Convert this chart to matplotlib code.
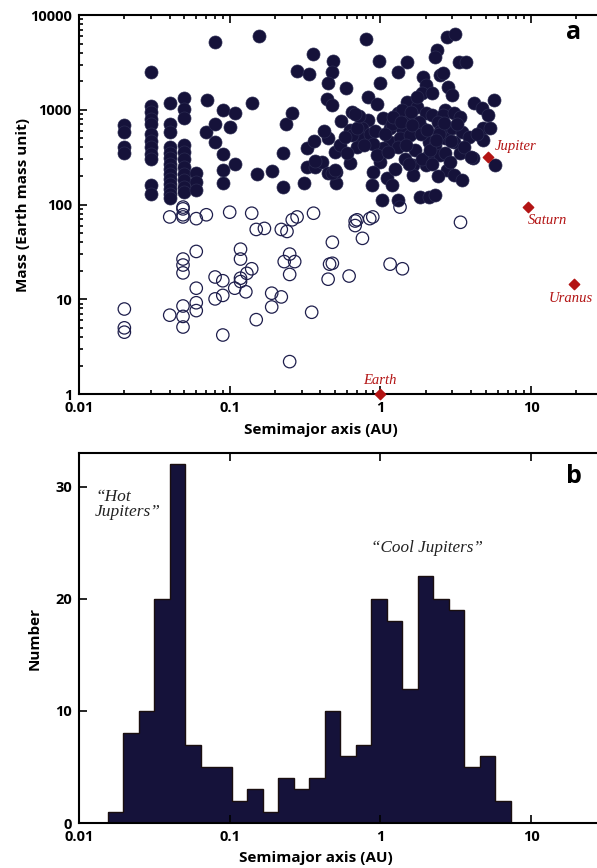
import numpy as np
import matplotlib
matplotlib.use("Agg")
from matplotlib import pyplot as plt
from matplotlib.ticker import FixedLocator, FixedFormatter, LogLocator, NullFormatter

# ---- panel a: giant planets (filled) ----
gas_a = ([0.02] * 4 + [0.03] * 12 + [0.04] * 14 + [0.05] * 11 + [0.06] * 3 +
         [0.071, 0.07, 0.08, 0.09, 0.08, 0.08, 0.09, 0.09, 0.09, 0.1, 0.108, 0.108,
          0.141, 0.152, 0.156, 0.191, 0.226, 0.226, 0.237, 0.26, 0.28, 0.357, 0.336,
          0.484, 0.48, 0.449, 0.44, 0.48, 0.326, 0.326, 0.367, 0.41, 0.50, 0.54, 0.45,
          0.51, 0.59, 0.80, 2.77, 0.98, 1.31, 1.5, 1.0, 0.83, 0.95, 0.65, 2.38, 2.3,
          1.92, 2.0, 2.5, 1.9, 2.2, 1.5, 1.75, 1.3, 1.57, 2.0, 2.2, 2.7, 0.83, 1.04,
          0.63, 0.76, 0.76, 1.16, 1.4, 1.16, 1.35, 1.57, 1.04, 1.3, 1.9, 2.1, 2.3,
          2.7, 2.1, 2.5, 2.0, 1.0, 0.89, 1.1, 1.2, 0.88, 0.63, 0.51, 1.02, 1.3, 1.65,
          1.65, 1.83, 2.1, 2.3, 3.13, 3.3, 3.7, 2.6, 2.8, 3.0, 4.2, 4.7, 5.7, 5.2,
          2.6, 3.1, 3.4, 3.0, 3.5, 3.9, 4.8, 5.3, 4.8, 3.1, 2.7, 3.4, 4.1, 5.8, 2.75,
          3.1, 3.5, 0.31, 0.37, 0.48, 0.5, 0.65, 0.7, 0.85, 0.9, 1.2, 1.4, 1.6, 1.8,
          2.4, 2.5, 1.7, 1.9, 2.2, 2.4, 2.9, 1.45, 1.25, 0.95, 0.7, 0.6, 0.45, 0.36,
          0.55, 0.58, 0.72, 0.78, 0.92, 1.08, 1.12, 1.22, 1.38, 1.48, 1.62, 1.85,
          2.05, 2.15, 2.45, 2.65, 2.95, 3.2, 3.6, 4.0, 4.4, 0.42, 0.68, 1.75, 2.35, 1.55])
gas_m = ([690, 580, 405, 350] +
         [2500, 1100, 940, 800, 700, 560, 470, 400, 345, 300, 160, 128] +
         [1180, 700, 580, 400, 350, 310, 270, 240, 210, 185, 165, 145, 130, 118] +
         [1330, 1020, 820, 425, 360, 300, 250, 210, 180, 155, 135] +
         [215, 175, 142] +
         [1270, 580, 5190, 995, 707, 457, 341, 231, 169, 658, 925, 267,
          1180, 210, 6000, 226, 350, 153, 707, 925, 2560, 3875, 2385,
          3268, 2500, 1915, 1300, 1120, 394, 249, 249, 281, 358, 425, 215,
          169, 1698, 5580, 5860, 3268, 2500, 3190, 1915, 1364, 1155, 947, 4275, 3600,
          2218, 1830, 2330, 1500, 1500, 1200, 1070, 925, 820, 925, 880, 990, 780, 820,
          610, 640, 500, 640, 640, 457, 500, 541, 394, 405, 640, 457, 425,
          500, 333, 333, 260, 281, 220, 190, 160, 160, 275, 220, 112, 112, 260,
          206, 120, 120, 125, 6300, 3190, 3190, 2440, 1740, 1430, 1180, 1050, 1270, 880,
          880, 925, 840, 640, 580, 515, 640, 640, 480, 457, 350, 350, 310, 260, 231,
          206, 182, 167, 290, 215, 230, 540, 650, 560, 440, 700, 1000, 950, 750,
          750, 600, 380, 300, 270, 200, 280, 300, 240, 330, 400, 350, 500, 470,
          760, 520, 860, 420, 600, 560, 360, 830, 740, 430, 690, 560,
          610, 380, 550, 720, 470, 700, 400, 320, 560, 600, 900, 1350, 480, 270])

# ---- panel a: small planets (open) ----
small_a = [0.02, 0.02, 0.02, 0.04, 0.04, 0.049, 0.049, 0.049, 0.049, 0.049, 0.049,
           0.049, 0.049, 0.049, 0.049, 0.06, 0.07, 0.06, 0.06, 0.06, 0.06, 0.08, 0.08,
           0.09, 0.09, 0.09, 0.1, 0.108, 0.118, 0.118, 0.118, 0.118, 0.128, 0.13, 0.14,
           0.14, 0.15, 0.17, 0.15, 0.19, 0.19, 0.22, 0.22, 0.24, 0.23, 0.25, 0.25, 0.27,
           0.25, 0.26, 0.28, 0.36, 0.48, 0.46, 0.48, 0.45, 0.62, 0.68, 0.70, 0.68, 0.85,
           0.89, 0.76, 0.35, 1.16, 1.4, 3.4, 1.35]
small_m = [7.9, 5.0, 4.5, 74, 6.8, 94, 90, 78, 74, 26.6, 23, 19, 8.5, 6.6, 5.1, 71, 78,
           32, 13.1, 9.2, 7.6, 17.2, 10.1, 15.7, 11.0, 4.2, 83, 13.1, 33.8, 26.6, 16.7,
           15.4, 12.0, 18.8, 21, 81, 54.6, 56, 6.1, 11.6, 8.3, 10.6, 54.6, 52, 25, 30,
           18.3, 25, 2.2, 69, 74, 81, 40, 23.5, 24, 16.3, 17.6, 67, 69, 60, 71, 74, 44,
           7.3, 23.5, 21, 65, 94]

# ---- solar system ----
planets = ["Earth", "Jupiter", "Saturn", "Uranus"]
planet_a = [1.0, 5.2, 9.54, 19.2]
planet_m = [1.0, 318, 95, 14.5]

# ---- panel b: histogram ----
counts = [1, 8, 10, 20, 32, 7, 5, 5, 2, 3, 1, 4, 3, 4, 10, 6, 7, 20, 18, 12, 22, 20,
          19, 5, 6, 2]
log_edges = np.linspace(-1.81, 0.865, len(counts) + 1)

navy = "#15123a"
red = "#b31414"
bold = dict(family="Open Sans", weight="bold")
serif_it = dict(family="Liberation Serif", style="italic")

fig = plt.figure(figsize=(5.97, 8.68), dpi=100)
xmax = 10 ** (-2 + 518 / 150.7)

# panel a
ax = fig.add_axes([0.1323, 0.546, 0.8677, 0.4367])
ax.scatter(gas_a, gas_m, s=88, color=navy, edgecolors="#2a2a50", linewidths=0.5, zorder=3)
ax.scatter(small_a, small_m, s=80, facecolors="none", edgecolors="#1e1e4c", linewidths=0.9, zorder=3)
ax.scatter(planet_a, planet_m, marker="D", s=28, color=red, zorder=4, clip_on=False)
offsets = {"Earth": (0, 5, "center", "bottom"), "Jupiter": (5, 3, "left", "bottom"),
           "Saturn": (0, -5, "left", "top"), "Uranus": (-2, -6, "center", "top")}
for name, a, m in zip(planets, planet_a, planet_m):
    dx, dy, ha, va = offsets[name]
    ax.annotate(name, (a, m), xytext=(dx, dy), textcoords="offset points",
                ha=ha, va=va, color=red, fontsize=10.5, **serif_it)
ax.set_xscale("log")
ax.set_yscale("log")
ax.set_xlim(0.01, xmax)
ax.set_ylim(1, 10000)
ax.xaxis.set_major_locator(FixedLocator([0.01, 0.1, 1, 10]))
ax.xaxis.set_major_formatter(FixedFormatter(["0.01", "0.1", "1", "10"]))
ax.yaxis.set_major_locator(FixedLocator([1, 10, 100, 1000, 10000]))
ax.yaxis.set_major_formatter(FixedFormatter(["1", "10", "100", "1000", "10000"]))
for axis in (ax.xaxis, ax.yaxis):
    axis.set_minor_locator(LogLocator(base=10, subs=np.arange(2, 10)))
    axis.set_minor_formatter(NullFormatter())
ax.tick_params(which="both", direction="in", top=True, right=False, width=1.2)
ax.tick_params(which="major", length=6, pad=5)
ax.tick_params(which="minor", length=3)
ax.spines["right"].set_visible(False)
for s in ("left", "top", "bottom"):
    ax.spines[s].set_linewidth(1.5)
for lab in ax.get_xticklabels() + ax.get_yticklabels():
    lab.set_fontproperties(matplotlib.font_manager.FontProperties(size=10.5, **bold))
ax.set_xlabel("Semimajor axis (AU)", fontsize=11, **bold)
ax.xaxis.set_label_coords((321 - 79) / 518, -0.075)
ax.set_ylabel("Mass (Earth mass unit)", fontsize=11, **bold)
ax.yaxis.set_label_coords(-0.094, 0.5)
ax.text(0.955, 0.955, "a", transform=ax.transAxes, fontsize=18, ha="center", va="center", **bold)

# panel b
bx = fig.add_axes([0.1323, 0.0518, 0.8677, 0.4262])
bx.stairs(counts, 10 ** log_edges, fill=True, color=navy)
bx.stairs(counts, 10 ** log_edges, color="#1a0f10", linewidth=1.0)
bx.set_xscale("log")
bx.set_xlim(0.01, xmax)
bx.set_ylim(0, 33)
bx.xaxis.set_major_locator(FixedLocator([0.01, 0.1, 1, 10]))
bx.xaxis.set_major_formatter(FixedFormatter(["0.01", "0.1", "1", "10"]))
bx.xaxis.set_minor_locator(FixedLocator([]))
bx.yaxis.set_major_locator(FixedLocator([0, 10, 20, 30]))
bx.tick_params(which="both", direction="in", top=True, right=False, width=1.2, length=6, pad=5)
bx.spines["right"].set_visible(False)
for s in ("left", "top", "bottom"):
    bx.spines[s].set_linewidth(1.5)
for lab in bx.get_xticklabels() + bx.get_yticklabels():
    lab.set_fontproperties(matplotlib.font_manager.FontProperties(size=10.5, **bold))
bx.set_xlabel("Semimajor axis (AU)", fontsize=11, **bold)
bx.xaxis.set_label_coords((316 - 79) / 518, -0.075)
bx.set_ylabel("Number", fontsize=11, **bold)
bx.yaxis.set_label_coords(-0.072, 0.5)
bx.text(0.955, 0.937, "b", transform=bx.transAxes, fontsize=18, ha="center", va="center", **bold)
bx.text(0.0128, 29.8, "\u201cHot\nJupiters\u201d", ha="left", va="top", fontsize=12.5,
        linespacing=0.95, color="#222222", **serif_it)
bx.text(2.04, 24.5, "\u201cCool Jupiters\u201d", ha="center", va="center", fontsize=12.3,
        color="#222222", **serif_it)

fig.savefig("out.png", dpi=100)
